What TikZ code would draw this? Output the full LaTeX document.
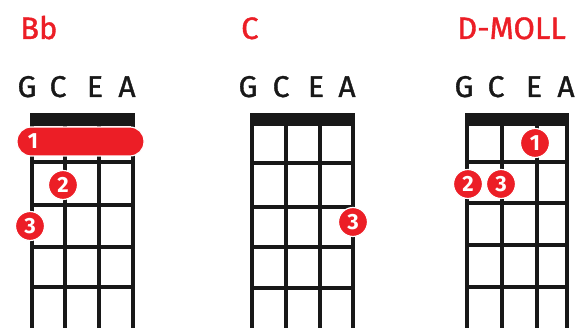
\documentclass[tikz,border=0pt]{standalone}
\usepackage{fontspec}
\setmainfont{Fira Sans}
\newfontfamily\medfont[FakeBold=1.2]{Fira Sans}
\definecolor{chordred}{RGB}{236,30,38}
\definecolor{ink}{RGB}{24,24,24}
\tikzset{
  fretline/.style={draw=ink, line width=3.6pt, line cap=round},
  nutbar/.style={fill=ink},
  title/.style={text=chordred, font=\medfont\fontsize{31}{31}\selectfont, inner sep=0pt, anchor=base west},
  strlabel/.style={text=ink, font=\medfont\fontsize{30}{30}\selectfont, inner sep=0pt, anchor=base},
  dot/.style={circle, fill=chordred, draw=white, line width=1.2pt, minimum size=29pt, inner sep=0pt, text=white, font=\fontsize{22}{22}\selectfont\bfseries},
  barre/.style={rectangle, rounded corners=14pt, fill=chordred, draw=white, line width=1.2pt, minimum width=127pt, minimum height=29pt, inner sep=0pt},
  barrenum/.style={text=white, font=\fontsize{22}{22}\selectfont\bfseries, inner sep=0pt}
}
\begin{document}
\begin{tikzpicture}[x=1pt, y=-1pt]
\useasboundingbox[fill=white] (0,0) rectangle (579,328);

% ---------- titles ----------
\node[title] (tBb) at (20,39) {Bb};
\node[title] (tC) at (241,39) {C};
\node[title] (tD) at (457,39) {D-MOLL};

% ---------- string labels ----------
\foreach \x/\l [count=\i] in {27/G,58/C,95/E,127/A}
  \node[strlabel] (s1\i) at (\x,97) {\l};
\foreach \x/\l [count=\i] in {248/G,281/C,316/E,347/A}
  \node[strlabel] (s2\i) at (\x,97) {\l};
\foreach \x/\l [count=\i] in {464/G,496/C,534/E,566/A}
  \node[strlabel] (s3\i) at (\x,97) {\l};

% ---------- grids ----------
% chart 1
\fill[nutbar] (30,113) rectangle (135,126);
\foreach \x in {32,65,99,133} \draw[fretline] (\x,118) -- (\x,340);
\foreach \y in {162,205,247,287} \draw[fretline] (32,\y) -- (133,\y);
% chart 2
\fill[nutbar] (250,113) rectangle (355,126);
\foreach \x in {252,286,320,353} \draw[fretline] (\x,118) -- (\x,340);
\foreach \y in {163,207,247,288} \draw[fretline] (252,\y) -- (353,\y);
% chart 3
\fill[nutbar] (465,113) rectangle (569,126);
\foreach \x in {467,502,537,567} \draw[fretline] (\x,118) -- (\x,340);
\foreach \y in {162,203,245,287} \draw[fretline] (467,\y) -- (567,\y);

% ---------- fingerings ----------
\node[barre] (bar1) at (80.5,141.5) {};
\node[barrenum] (bar1n) at (33,141.5) {1};
\node[dot] (b2) at (63,185) {2};
\node[dot] (b3) at (30,226) {3};

\node[dot] (c3) at (353,222) {3};

\node[dot] (d1) at (535,143) {1};
\node[dot] (d2) at (468,184) {2};
\node[dot] (d3) at (501,184) {3};
\end{tikzpicture}
\end{document}
